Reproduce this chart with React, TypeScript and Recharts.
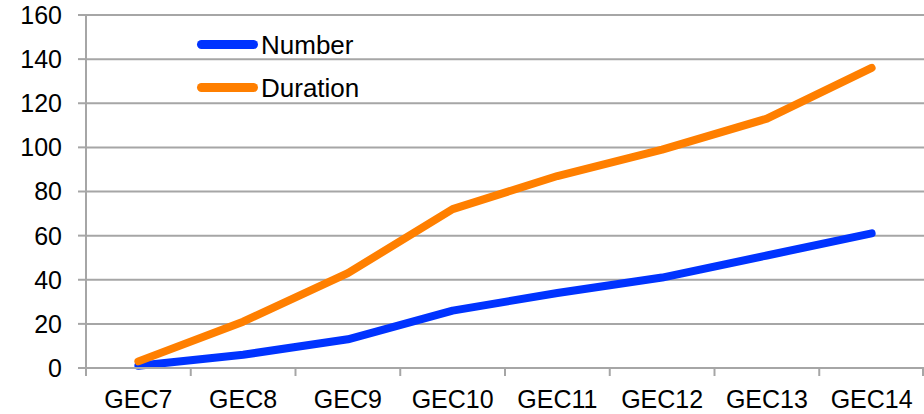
import { LineChart, Line, XAxis, YAxis, CartesianGrid } from "recharts";

const categories = ["GEC7", "GEC8", "GEC9", "GEC10", "GEC11", "GEC12", "GEC13", "GEC14"];
const numberValues = [1, 6, 13, 26, 34, 41, 51, 61];
const durationValues = [3, 21, 43, 72, 87, 99, 113, 136];
const yTicks = [0, 20, 40, 60, 80, 100, 120, 140, 160];

const series = [
  { key: "number", name: "Number", color: "#0033ff" },
  { key: "duration", name: "Duration", color: "#ff7f00" },
];

const data = categories.map((gec, i) => ({
  gec,
  number: numberValues[i],
  duration: durationValues[i],
}));

const W = 924;
const H = 414;
const LEFT = 86;
const BAND = (W - LEFT) / categories.length;
const GRID = "#a6a6a6";
const FONT = "'Liberation Sans', Arial, sans-serif";

const XTick = ({ x, y, payload, index }: any) => {
  const last = index === categories.length - 1;
  return (
    <g>
      <line x1={x - BAND / 2} y1={y} x2={x - BAND / 2} y2={y + 8} stroke={GRID} strokeWidth={2} />
      {last && <line x1={x + BAND / 2 - 1} y1={y} x2={x + BAND / 2 - 1} y2={y + 8} stroke={GRID} strokeWidth={2} />}
      <text x={x} y={y + 40} textAnchor="middle" fontSize={25} fill="#000" fontFamily={FONT}>
        {payload.value}
      </text>
    </g>
  );
};

export default function App() {
  return (
    <div style={{ position: "absolute", left: 0, top: 0, width: W, height: H, background: "#fff" }}>
      <LineChart width={W} height={H} data={data} margin={{ top: 15, right: 0, bottom: 0, left: 0 }}>
        <CartesianGrid horizontal vertical={false} stroke={GRID} strokeWidth={2} />
        <XAxis
          dataKey="gec"
          scale="band"
          height={46}
          axisLine={{ stroke: GRID, strokeWidth: 2 }}
          tickLine={false}
          tickSize={0}
          tickMargin={0}
          tick={<XTick />}
          interval={0}
        />
        <YAxis
          width={LEFT}
          domain={[0, 160]}
          ticks={yTicks}
          interval={0}
          axisLine={{ stroke: GRID, strokeWidth: 2 }}
          tickLine={{ stroke: GRID, strokeWidth: 2 }}
          tickSize={8}
          tickMargin={16}
          tick={{ fontSize: 25, fill: "#000", fontFamily: FONT }}
        />
        {series.map((s) => (
          <Line
            key={s.key}
            type="linear"
            dataKey={s.key}
            name={s.name}
            stroke={s.color}
            strokeWidth={8}
            strokeLinecap="round"
            strokeLinejoin="round"
            dot={false}
            isAnimationActive={false}
          />
        ))}
      </LineChart>
      <div style={{ position: "absolute", left: 197, top: 24, fontFamily: FONT, fontSize: 26, color: "#000" }}>
        {series.map((s) => (
          <div key={s.key} style={{ display: "flex", alignItems: "center", height: 43 }}>
            <span style={{ width: 61, height: 9, borderRadius: 5, backgroundColor: s.color, display: "inline-block", marginTop: -3 }} />
            <span style={{ marginLeft: 3 }}>{s.name}</span>
          </div>
        ))}
      </div>
    </div>
  );
}
